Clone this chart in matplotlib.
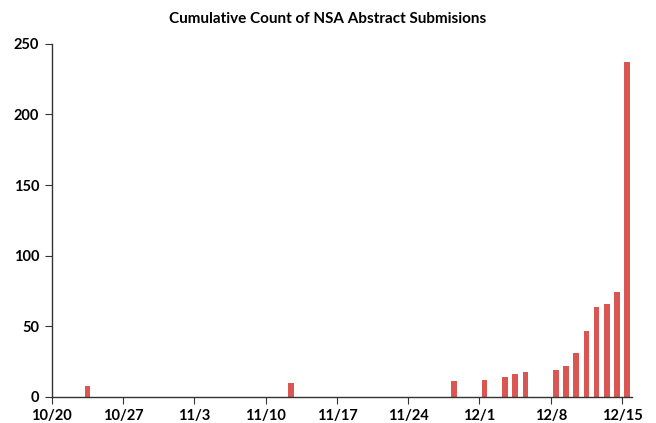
import datetime as dt
import matplotlib
matplotlib.use("Agg")
import matplotlib.pyplot as plt
import matplotlib.dates as mdates

plt.rcParams['font.family'] = ['Lato', 'DejaVu Sans']

# submission days and cumulative counts
days = ["2013-10-23", "2013-11-12", "2013-11-28", "2013-12-01", "2013-12-03",
        "2013-12-04", "2013-12-05", "2013-12-08", "2013-12-09", "2013-12-10",
        "2013-12-11", "2013-12-12", "2013-12-13", "2013-12-14", "2013-12-15"]
counts = [8, 10, 11, 12, 14, 16, 18, 19, 22, 31, 47, 64, 66, 74, 237]

tick_days = ["2013-10-20", "2013-10-27", "2013-11-03", "2013-11-10", "2013-11-17",
             "2013-11-24", "2013-12-01", "2013-12-08", "2013-12-15"]
y_ticks = [0, 50, 100, 150, 200, 250]

dates = [dt.datetime.strptime(d, "%Y-%m-%d") for d in days]
tdates = [dt.datetime.strptime(d, "%Y-%m-%d") for d in tick_days]

fig = plt.figure(figsize=(6.56, 4.23), dpi=100)
ax = fig.add_axes([0.079, 0.0615, 0.884, 0.835])

# bars sit half a day right of the date tick (Excel style)
x = [mdates.date2num(d) + 0.5 for d in dates]
ax.bar(x, counts, width=0.55, color='#da5652', edgecolor='none', zorder=2)

ax.set_xlim(mdates.date2num(tdates[0]), mdates.date2num(tdates[-1]) + 0.95)
ax.set_ylim(0, 250)

ax.set_xticks([mdates.date2num(d) for d in tdates])
ax.set_xticklabels([f"{d.month}/{d.day}" for d in tdates], fontweight='bold', fontsize=10.5)
ax.set_yticks(y_ticks)
ax.set_yticklabels([str(v) for v in y_ticks], fontweight='bold', fontsize=10.5)

for s in ['top', 'right']:
    ax.spines[s].set_visible(False)
for s in ['left', 'bottom']:
    ax.spines[s].set_color('#333333')
    ax.spines[s].set_linewidth(1.0)
ax.tick_params(axis='both', direction='out', length=5, color='#333333', pad=4)

fig.text(0.5, 0.955, "Cumulative Count of NSA Abstract Submisions",
         ha='center', va='center', fontsize=11, fontweight='bold')

fig.savefig("out.png", dpi=100)
